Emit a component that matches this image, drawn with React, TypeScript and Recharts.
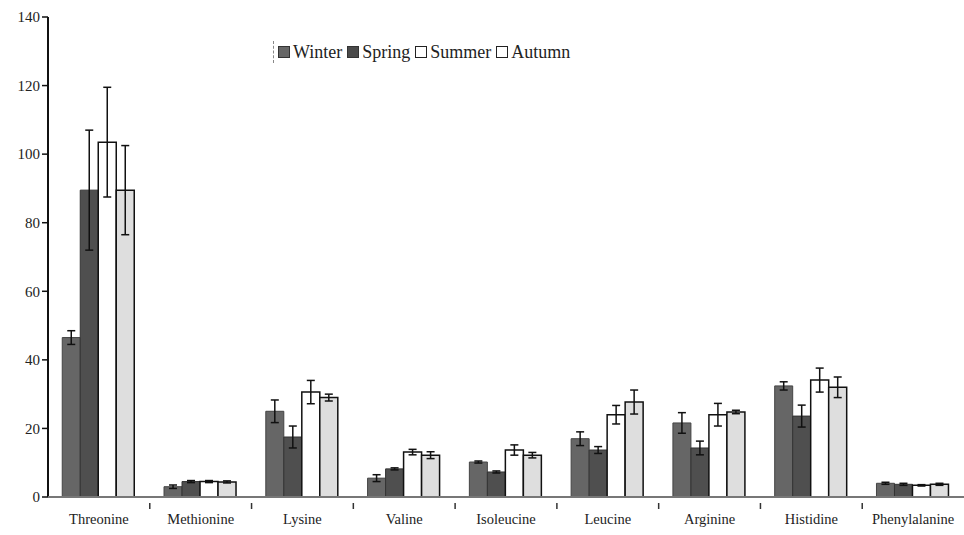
import { BarChart, Bar, XAxis, YAxis, ErrorBar } from "recharts";

const aminoAcids = ["Threonine", "Methionine", "Lysine", "Valine", "Isoleucine", "Leucine", "Arginine", "Histidine", "Phenylalanine"];

const winter = [46.5, 3, 25, 5.5, 10.2, 17, 21.6, 32.4, 4];
const winterErr = [2, 0.5, 3.3, 1, 0.3, 2, 3, 1.2, 0.3];
const spring = [89.5, 4.5, 17.5, 8.2, 7.3, 13.7, 14.3, 23.6, 3.7];
const springErr = [17.5, 0.3, 3.2, 0.3, 0.3, 1, 2, 3.2, 0.3];
const summer = [103.5, 4.5, 30.6, 13.1, 13.7, 24, 24, 34.1, 3.4];
const summerErr = [16, 0.3, 3.4, 0.8, 1.5, 2.7, 3.3, 3.5, 0.2];
const autumn = [89.5, 4.4, 29, 12.2, 12.2, 27.7, 24.8, 32, 3.7];
const autumnErr = [13, 0.3, 1, 1, 0.8, 3.5, 0.5, 3, 0.3];

const yTicks = [0, 20, 40, 60, 80, 100, 120, 140];

const data = aminoAcids.map((name, i) => ({
  name,
  winter: winter[i],
  winterErr: winterErr[i],
  spring: spring[i],
  springErr: springErr[i],
  summer: summer[i],
  summerErr: summerErr[i],
  autumn: autumn[i],
  autumnErr: autumnErr[i],
}));

const serif = '"Liberation Serif", "DejaVu Serif", serif';

const legendItems = [
  { label: "Winter", fill: "#666", stroke: "#333" },
  { label: "Spring", fill: "#4a4a4a", stroke: "#333" },
  { label: "Summer", fill: "#fff", stroke: "#222" },
  { label: "Autumn", fill: "#fff", stroke: "#222" },
];

const PLOT_LEFT = 48;
const PLOT_RIGHT = 964;
const band = (PLOT_RIGHT - PLOT_LEFT) / aminoAcids.length;

function CategoryTick(props: any) {
  const { x, y, payload, index } = props;
  return (
    <g>
      {index < aminoAcids.length - 1 && (
        <line x1={x + band / 2} x2={x + band / 2} y1={y - 2} y2={y + 4} stroke="#333" strokeWidth={1.5} />
      )}
      <text x={x} y={y + 19} textAnchor="middle" fontFamily={serif} fontSize={14.5} fill="#222">
        {payload.value}
      </text>
    </g>
  );
}

function ChartLegend() {
  return (
    <div
      style={{
        position: "absolute",
        top: 41,
        left: 273,
        display: "flex",
        alignItems: "center",
        fontFamily: serif,
        fontSize: 18,
        color: "#222",
        borderLeft: "1px dashed #888",
        paddingLeft: 4,
        lineHeight: "22px",
      }}
    >
      {legendItems.map((it) => (
        <span key={it.label} style={{ display: "flex", alignItems: "center", marginRight: 5 }}>
          <span style={{ width: 10, height: 10, background: it.fill, border: `1px solid ${it.stroke}`, marginRight: 3, display: "inline-block" }} />
          {it.label}
        </span>
      ))}
    </div>
  );
}

export default function App() {
  return (
    <div style={{ position: "absolute", left: 0, top: 0, width: 964, height: 535, background: "#fff" }}>
      <BarChart
        width={964}
        height={535}
        data={data}
        margin={{ top: 17, right: 0, bottom: 0, left: 0 }}
        barCategoryGap="14%"
        barGap={0}
      >
        <YAxis
          width={PLOT_LEFT}
          domain={[0, 140]}
          ticks={yTicks}
          interval={0}
          axisLine={{ stroke: "#111", strokeWidth: 2 }}
          tickLine={{ stroke: "#111", strokeWidth: 1.5 }}
          tickSize={6}
          tick={{ fontFamily: serif, fontSize: 15, fill: "#222" }}
        />
        <XAxis
          dataKey="name"
          interval={0}
          axisLine={{ stroke: "#777", strokeWidth: 2 }}
          tickLine={false}
          tick={<CategoryTick />}
          height={38}
        />
        <Bar dataKey="winter" name="Winter" fill="#666" stroke="#444" strokeWidth={1} isAnimationActive={false}>
          <ErrorBar dataKey="winterErr" width={4} stroke="#111" strokeWidth={1.5} />
        </Bar>
        <Bar dataKey="spring" name="Spring" fill="#4f4f4f" stroke="#333" strokeWidth={1} isAnimationActive={false}>
          <ErrorBar dataKey="springErr" width={4} stroke="#111" strokeWidth={1.5} />
        </Bar>
        <Bar dataKey="summer" name="Summer" fill="#fff" stroke="#111" strokeWidth={1.5} isAnimationActive={false}>
          <ErrorBar dataKey="summerErr" width={4} stroke="#111" strokeWidth={1.5} />
        </Bar>
        <Bar dataKey="autumn" name="Autumn" fill="#dedede" stroke="#111" strokeWidth={1.5} isAnimationActive={false}>
          <ErrorBar dataKey="autumnErr" width={4} stroke="#111" strokeWidth={1.5} />
        </Bar>
      </BarChart>
      <ChartLegend />
    </div>
  );
}
